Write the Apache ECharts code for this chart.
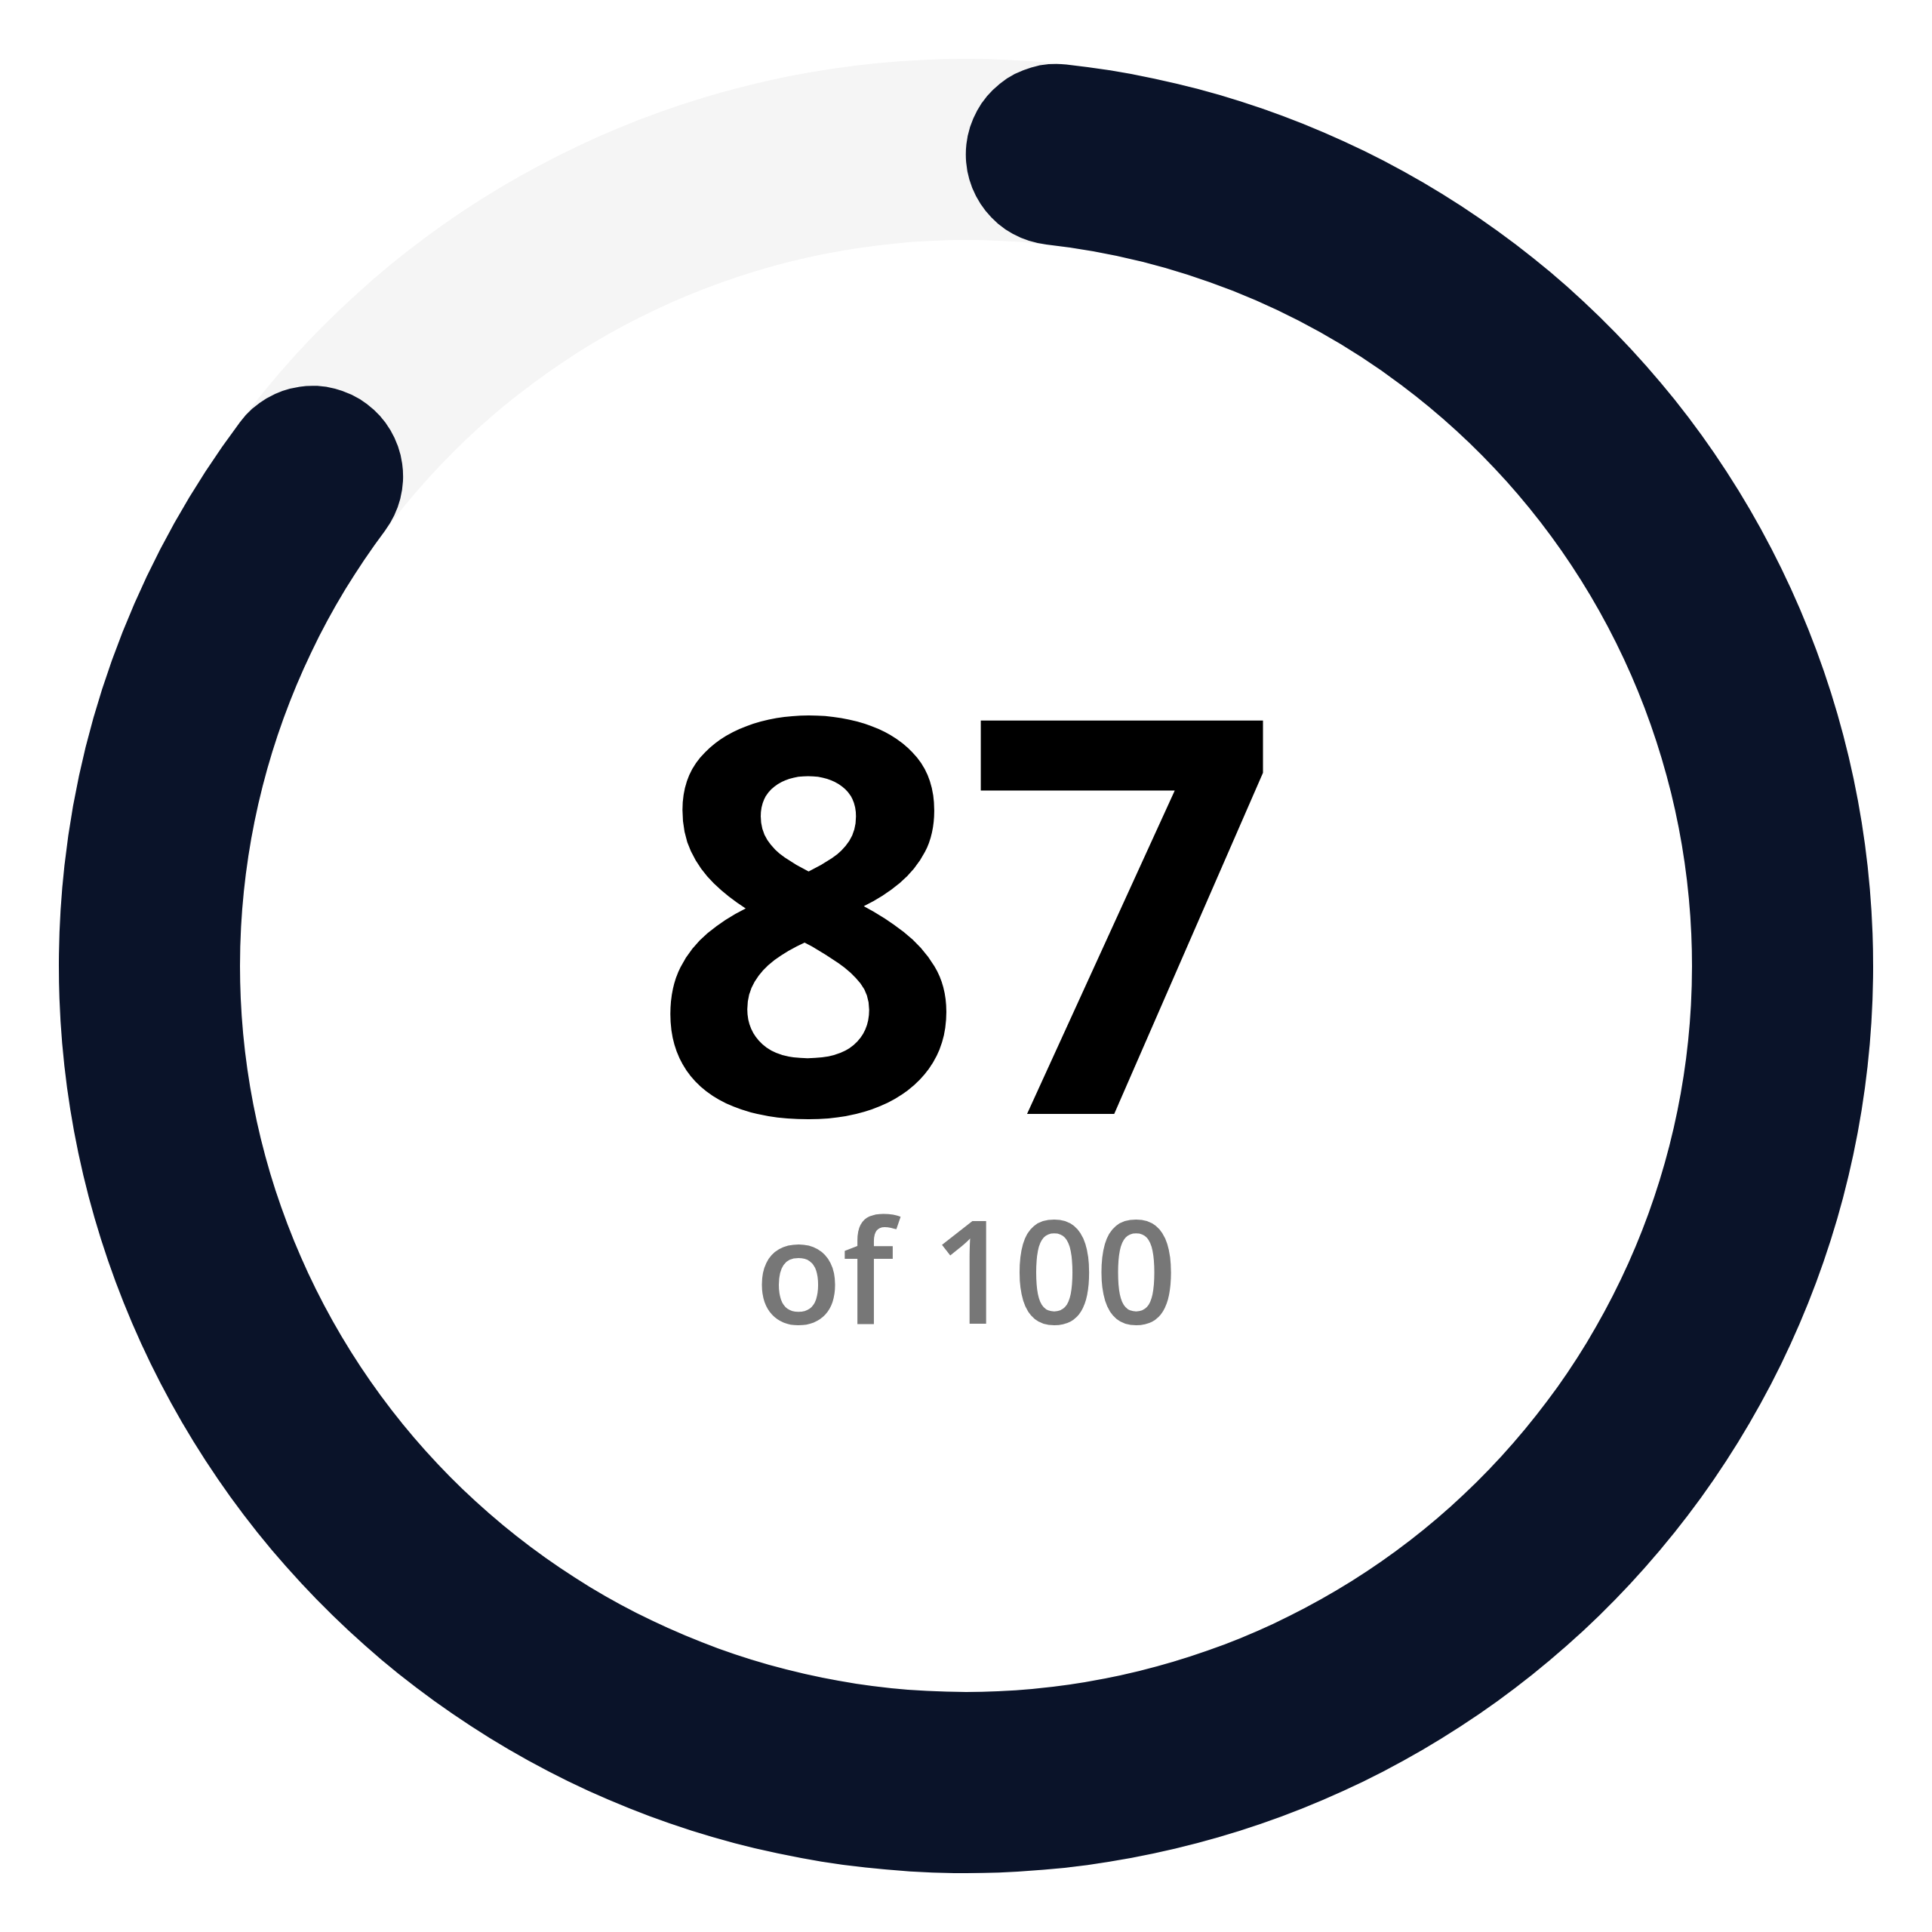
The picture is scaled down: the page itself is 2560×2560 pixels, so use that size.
<!DOCTYPE html>
<html>
<head>
<meta charset="utf-8">
<script src="https://cdn.jsdelivr.net/npm/echarts@6/dist/echarts.min.js"></script>
<style>html,body{margin:0;padding:0;background:#fff}#c{width:2560px;height:2560px}</style>
</head>
<body>
<div id="c"></div>
<script>
var scoreValue = 87;
var scoreMax = 100;
var scoreLabel = 'of 100';

var RADIUS = 1202;
var WIDTH = 240;
// keep the round caps inside the arc (caps do not extend past the value range)
var capDeg = (WIDTH / 2) / (RADIUS - WIDTH / 2) * 180 / Math.PI;
var startA = 90 - capDeg;
var sweepForValue = 360 * scoreValue / scoreMax - 2 * capDeg;
var endA = startA - sweepForValue * scoreMax / scoreValue;

var chart = echarts.init(document.getElementById('c'));
chart.setOption({
  backgroundColor: '#ffffff',
  animation: false,
  series: [{
    type: 'gauge',
    center: ['50%', '50%'],
    radius: RADIUS,
    startAngle: 90,
    endAngle: -270,
    min: 0,
    max: scoreMax,
    pointer: { show: false },
    progress: { show: false },
    axisLine: { lineStyle: { width: WIDTH, color: [[1, '#f5f5f5']] } },
    axisTick: { show: false },
    splitLine: { show: false },
    axisLabel: { show: false },
    anchor: { show: false },
    title: { show: false },
    detail: { show: false },
    data: []
  }, {
    type: 'gauge',
    center: ['50%', '50%'],
    radius: RADIUS,
    startAngle: startA,
    endAngle: endA,
    min: 0,
    max: scoreMax,
    pointer: { show: false },
    progress: {
      show: true,
      roundCap: true,
      width: WIDTH,
      itemStyle: { color: '#0a1329' }
    },
    axisLine: { show: false, lineStyle: { width: WIDTH, color: [[1, 'rgba(0,0,0,0)']] } },
    axisTick: { show: false },
    splitLine: { show: false },
    axisLabel: { show: false },
    anchor: { show: false },
    title: {
      show: true,
      offsetCenter: [0, 420],
      fontSize: 190,
      fontWeight: 600,
      fontFamily: 'Open Sans',
      color: '#777777'
    },
    detail: {
      show: true,
      valueAnimation: false,
      offsetCenter: [0, -12],
      fontSize: 730,
      fontWeight: 'bold',
      fontFamily: 'Open Sans',
      color: '#000000',
      formatter: '{value}'
    },
    data: [{ value: scoreValue, name: scoreLabel }]
  }]
});
</script>
</body>
</html>
